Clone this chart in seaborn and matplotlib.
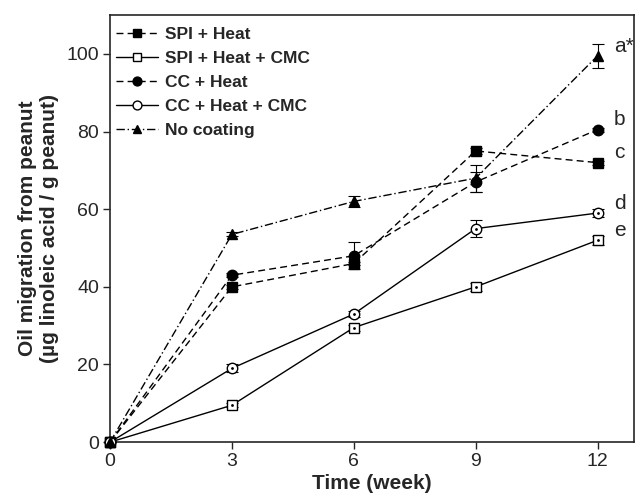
import numpy as np
import pandas as pd
import matplotlib
matplotlib.use("Agg")
import matplotlib.pyplot as plt
import seaborn as sns

# data
weeks = [0, 3, 6, 9, 12]
spi_heat = [0, 40, 46, 75, 72]
spi_heat_cmc = [0, 9.5, 29.5, 40, 52]
cc_heat = [0, 43, 48, 67, 80.5]
cc_heat_cmc = [0, 19, 33, 55, 59]
no_coating = [0, 53.5, 62, 68, 99.5]

spi_heat_err = [0, 0.5, 0.5, 0.8, 0.5]
spi_heat_cmc_err = [0, 0.5, 0.8, 1.0, 1.2]
cc_heat_err = [0, 0.5, 3.5, 2.5, 0.5]
cc_heat_cmc_err = [0, 1.0, 0.8, 2.2, 1.0]
no_coating_err = [0, 0.5, 1.5, 3.5, 3.0]

labels = ["SPI + Heat", "SPI + Heat + CMC", "CC + Heat", "CC + Heat + CMC", "No coating"]
letters = ["c", "e", "b", "d", "a*"]

series = [spi_heat, spi_heat_cmc, cc_heat, cc_heat_cmc, no_coating]
errors = [spi_heat_err, spi_heat_cmc_err, cc_heat_err, cc_heat_cmc_err, no_coating_err]

styles = [
    dict(marker="s", mfc="black", ls=(0, (5, 3))),
    dict(marker="s", mfc="white", ls="-"),
    dict(marker="o", mfc="black", ls=(0, (5, 3))),
    dict(marker="o", mfc="white", ls="-"),
    dict(marker="^", mfc="black", ls=(0, (6, 2, 1, 2))),
]

sns.set_style("ticks")
plt.rcParams["font.family"] = ["Liberation Sans", "DejaVu Sans"]

fig, ax = plt.subplots(figsize=(6.36, 5.03), dpi=100)

for vals, err, lab, let, st in zip(series, errors, labels, letters, styles):
    df = pd.DataFrame({"week": weeks, "value": vals})
    sns.lineplot(data=df, x="week", y="value", ax=ax, color="black", lw=1,
                 linestyle=st["ls"], marker=st["marker"], markersize=7.5,
                 markerfacecolor=st["mfc"], markeredgecolor="black",
                 markeredgewidth=1, label=lab, clip_on=False, zorder=3)
    ax.errorbar(weeks, vals, yerr=err, fmt="none", ecolor="black",
                elinewidth=0.8, capsize=4, capthick=0.8, zorder=2)
    ax.text(12.4, vals[-1] + 2.5, let, fontsize=15, va="center", ha="left")

# small dots in the open markers
for vals in [spi_heat_cmc, cc_heat_cmc]:
    ax.scatter(weeks, vals, s=1, color="black", zorder=4)

ax.set_xlim(0, 12.9)
ax.set_ylim(0, 110)
ax.set_xticks([0, 3, 6, 9, 12])
ax.set_yticks([0, 20, 40, 60, 80, 100])
ax.tick_params(labelsize=14, length=5, width=1, direction="out", pad=3)
for s in ax.spines.values():
    s.set_linewidth(1.2)
    s.set_visible(True)

ax.set_xlabel("Time (week)", fontsize=15, fontweight="bold", labelpad=3)
ax.set_ylabel("Oil migration from peanut\n(\u00b5g linoleic acid / g peanut)",
              fontsize=15, fontweight="bold", labelpad=5)

leg = ax.legend(loc="upper left", frameon=False, prop={"weight": "bold", "size": 12.5},
                handlelength=2.4, handletextpad=0.4, labelspacing=0.5,
                borderaxespad=0.3, bbox_to_anchor=(-0.012, 1.0), markerscale=0.85)

fig.subplots_adjust(left=0.173, right=0.997, bottom=0.121, top=0.970)
fig.savefig("out.png", dpi=100)
